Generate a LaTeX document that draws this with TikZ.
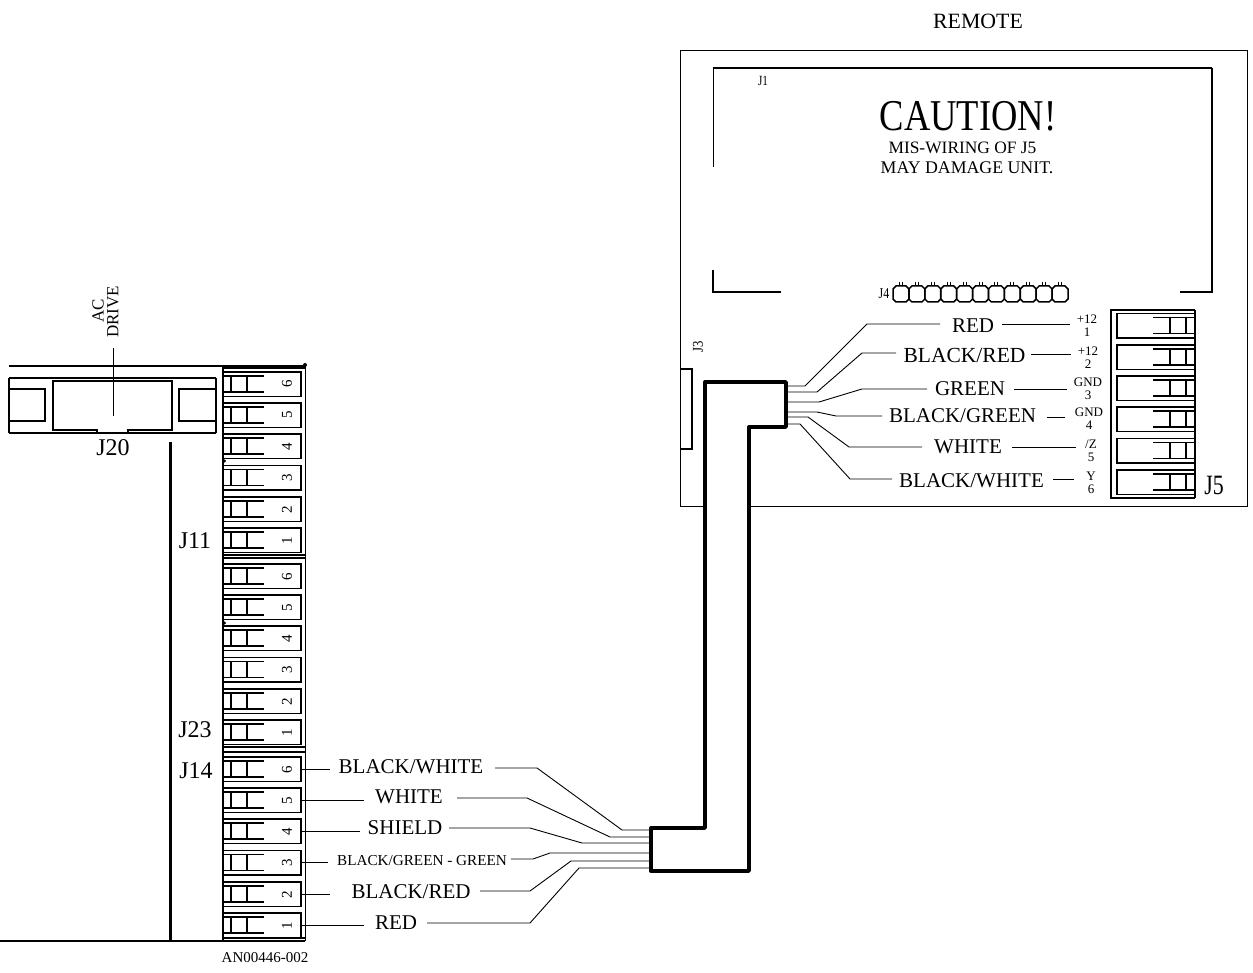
\documentclass[tikz,border=0pt]{standalone}
\usepackage{fontspec}
\setmainfont{Liberation Serif}
\tikzset{
  x=1pt,y=-1pt,
  wire/.style={line width=0.9pt,line join=round},
  lab/.style={font=\fontsize{21}{23}\selectfont,inner sep=0pt},
  term/.style={draw,line width=1.6pt,minimum width=78pt,minimum height=24.5pt,inner sep=0pt,outer sep=0pt},
  prong/.style={line width=1.6pt},
  pin/.style={font=\fontsize{13}{13}\selectfont,inner sep=0pt,align=center},
  digit/.style={font=\fontsize{15}{15}\selectfont,rotate=90,inner sep=0pt},
  cable/.style={line width=3.4pt,line join=round,fill=white},
  jlab/.style={font=\fontsize{24}{26}\selectfont,inner sep=0pt},
  box/.style={line width=1pt},
}
\newcommand{\ltermrow}[3]{% name, top y, digit
  \node[term] (#1) at (262,#2+12.25) {};
  \draw[prong] (223,#2+4) -- (264,#2+4) (223,#2+20) -- (264,#2+20) (231,#2+4) -- (231,#2+20) (247,#2+4) -- (247,#2+20);
  \node[digit] (#1d) at (287,#2+12.25) {#3};
}
\newcommand{\rtermrow}[2]{% name, top y
  \node[term,minimum width=78pt] (#1) at (1156,#2+12.25) {};
  \draw[prong] (1153,#2+4) -- (1195,#2+4) (1153,#2+20) -- (1195,#2+20) (1170,#2+4) -- (1170,#2+20) (1186,#2+4) -- (1186,#2+20);
}
\begin{document}
\begin{tikzpicture}
\useasboundingbox (0,0) rectangle (1253,973);
% Remote board
\draw[box] (680,51) rectangle (1247,506);
\draw[line width=1pt] (713,167) -- (713,68);
\draw[line width=1.7pt] (713,68) -- (1212,68);
\draw[line width=1.3pt] (1212,68) -- (1212,292) -- (1180,292);
\draw[line width=1.3pt] (713,270) -- (713,292) -- (781,292);
\node[inner sep=0pt,font=\fontsize{14}{14}\selectfont,xscale=.8] (J1) at (763,81) {J1};
\node[inner sep=0pt,font=\fontsize{44}{46}\selectfont,xscale=.83] (caution) at (968,116.5) {CAUTION!};
\node[inner sep=0pt,font=\fontsize{17.4}{18}\selectfont] (mis) at (962.5,147.5) {MIS-WIRING OF J5};
\node[inner sep=0pt,font=\fontsize{17.8}{18}\selectfont] (may) at (967,168) {MAY DAMAGE UNIT.};
\node[inner sep=0pt,font=\fontsize{21.8}{24}\selectfont] (remote) at (978,21) {REMOTE};
\node[inner sep=0pt,font=\fontsize{15}{15}\selectfont,xscale=.8] (J4) at (884,294) {J4};
\foreach \i in {0,...,10}{
  \pgfmathsetmacro{\xx}{893+\i*15.9}
  \draw[line width=1.5pt] (\xx+3,286) -- (\xx+13,286) -- (\xx+16,289) -- (\xx+16,299) -- (\xx+13,302) -- (\xx+3,302) -- (\xx,299) -- (\xx,289) -- cycle;
  \draw[line width=1pt] (\xx+6.5,282) -- (\xx+6.5,286) (\xx+9.5,282) -- (\xx+9.5,286);
}
\node[inner sep=0pt,rotate=90,font=\fontsize{15}{15}\selectfont,xscale=.85] (J3) at (698,347) {J3};
\draw[line width=1.2pt] (680,369) -- (692,369) -- (692,449) -- (680,449);
% J5
\draw[line width=1.3pt] (1195,310) -- (1111,310) -- (1111,498) -- (1195,498);
\rtermrow{rA}{313.5}
\rtermrow{rB}{345}
\rtermrow{rC}{376}
\rtermrow{rD}{407}
\rtermrow{rE}{438.5}
\rtermrow{rF}{470}
\draw[line width=1.3pt] (1195,310) -- (1195,498);
\node[inner sep=0pt,font=\fontsize{28}{28}\selectfont,xscale=.78] (J5) at (1214,485) {J5};
% Pin labels
\node[pin] (p1) at (1087,326) {+12\\1};
\node[pin] (p2) at (1088,358) {+12\\2};
\node[pin] (p3) at (1088,389) {GND\\3};
\node[pin] (p4) at (1089,419) {GND\\4};
\node[pin] (p5) at (1091,451) {/Z\\5};
\node[pin] (p6) at (1091,483) {Y\\6};
% Remote labels
\node[lab] (rRED) at (973,326) {RED};
\node[lab,font=\fontsize{21.5}{23}\selectfont] (rBR) at (964.5,355) {BLACK/RED};
\node[lab] (rG) at (970,389) {GREEN};
\node[lab] (rBG) at (962.5,416) {BLACK/GREEN};
\node[lab] (rW) at (968,447) {WHITE};
\node[lab] (rBW) at (971.5,481) {BLACK/WHITE};
% Left block
\draw[line width=1.6pt] (9,366) -- (305,366);
\draw[line width=1.2pt] (9,378) -- (216,378) (9,433) -- (216,433) (216,378) -- (216,433);
\draw[line width=1.2pt] (9,378) -- (9,433);
\draw[line width=1.2pt] (9,389) -- (45,389) -- (45,421) -- (9,421);
\draw[line width=1.2pt] (216,389) -- (179,389) -- (179,421) -- (216,421);
\draw[line width=1.2pt] (97,433) -- (97,430) -- (53,430) -- (53,381) -- (172,381) -- (172,430) -- (128,430) -- (128,433);
\node[inner sep=0pt,rotate=90,font=\fontsize{17}{17}\selectfont] (ac) at (98,310.5) {AC};
\node[inner sep=0pt,rotate=90,font=\fontsize{17}{17}\selectfont] (drive) at (113,312) {DRIVE};
\draw[line width=.8pt] (113.5,348) -- (113.5,416);
\node[jlab] (J20) at (113,448) {J20};
\draw[line width=3pt] (170,442) -- (170,942);
\draw[line width=1.6pt] (0,941) -- (305,941);
% terminal blocks
\draw[line width=1.4pt] (223,366) -- (223,941);
\draw[line width=1.6pt] (305.5,366) -- (305.5,941);
\draw[line width=1.2pt] (223,368) -- (305,368) (223,555) -- (305,555) (223,558) -- (305,558);
\draw[line width=1.2pt] (223,747) -- (305,747) (223,752) -- (305,752) (223,938) -- (305,938);
\fill (305,365) circle (2pt) (224.5,461) circle (1.6pt) (224.5,623) circle (1.6pt);
\foreach \n/\y in {6/372,5/403,4/434,3/465.5,2/497,1/528}{\ltermrow{a\n}{\y}{\n}}
\foreach \n/\y in {6/564,5/595,4/626,3/657.5,2/689,1/720}{\ltermrow{b\n}{\y}{\n}}
\foreach \n/\y in {6/757,5/788,4/819,3/850.5,2/882,1/913}{\ltermrow{c\n}{\y}{\n}}
\node[jlab] (J11) at (195,541) {J11};
\node[jlab] (J23) at (195,730) {J23};
\node[jlab] (J14) at (196,771) {J14};
\node[inner sep=0pt,font=\fontsize{15}{16}\selectfont] (an) at (265,958) {AN00446-002};
% Left labels
\node[lab] (lBW) at (411,767) {BLACK/WHITE};
\node[lab] (lW) at (409,797) {WHITE};
\node[lab] (lS) at (405,828) {SHIELD};
\node[lab,font=\fontsize{15.2}{16}\selectfont] (lBG) at (422,861) {BLACK/GREEN - GREEN};
\node[lab] (lBR) at (411,892) {BLACK/RED};
\node[lab] (lR) at (396,923) {RED};
% Cable
\draw[cable] (705,382) -- (786,382) -- (786,427) -- (749,427) -- (749,871) -- (651,871) -- (651,828) -- (705,828) -- cycle;
\coordinate (e1) at (786,386); \coordinate (e2) at (786,392); \coordinate (e3) at (786,402);
\coordinate (e4) at (786,412); \coordinate (e5) at (786,417); \coordinate (e6) at (786,424);
\coordinate (w1) at (651,830); \coordinate (w2) at (651,837); \coordinate (w3) at (651,843);
\coordinate (w4) at (651,853); \coordinate (w5) at (651,861); \coordinate (w6) at (651,868);
% Wires at remote
\draw[wire] (e1) -- (805,386) -- (867,324) -- (940,324);
\draw[wire] (e2) -- (817,392) -- (862,353) -- (896,353);
\draw[wire] (e3) -- (819,402) -- (862,389) -- (927,389);
\draw[wire] (e4) -- (817,412) -- (836,416) -- (882,416);
\draw[wire] (e5) -- (808,417) -- (849,447) -- (922,447);
\draw[wire] (e6) -- (800,424) -- (850,479) -- (892,479);
\draw[wire] (1002,324) -- (1070,324);
\draw[wire] (1031,354) -- (1071,354);
\draw[wire] (1014,389) -- (1067,389);
\draw[wire] (1047,417) -- (1065,417);
\draw[wire] (1012,447) -- (1076,447);
\draw[wire] (1053,479) -- (1074,479);
% Wires at drive
\draw[wire] (c6.east) -- ++(29,0);
\draw[wire] (c5.east) -- ++(63,0);
\draw[wire] (c4.east) -- ++(59,0);
\draw[wire] (c3.east) -- ++(27,0);
\draw[wire] (c2.east) -- ++(29,0);
\draw[wire] (c1.east) -- ++(63,0);
\draw[wire] (495,768) -- (537,768) -- (622,830) -- (w1);
\draw[wire] (457,798) -- (527,798) -- (610,837) -- (w2);
\draw[wire] (449,828) -- (530,828) -- (582,843) -- (w3);
\draw[wire] (511,859) -- (533,859) -- (550,853) -- (w4);
\draw[wire] (480,891) -- (530,891) -- (571,861) -- (w5);
\draw[wire] (427,923) -- (530,923) -- (579,868) -- (w6);
\end{tikzpicture}
\end{document}
